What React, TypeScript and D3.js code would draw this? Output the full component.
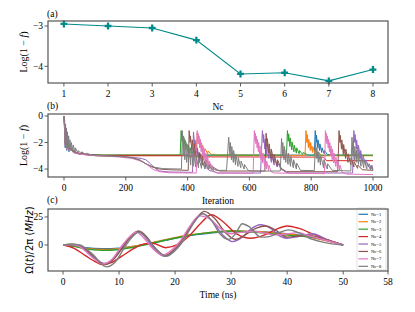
import React from "react";
import * as d3 from "d3";

// ---------- Panel (a) data ----------
const ncValues = [1, 2, 3, 4, 5, 6, 7, 8];
const logInfid = [-2.95, -3.0, -3.05, -3.35, -4.19, -4.16, -4.36, -4.08];
const aXTicks = [1, 2, 3, 4, 5, 6, 7, 8];
const aYTicks = [-3, -4];

// ---------- Panel (b) data (iteration, log infidelity) ----------
const bNames = ["Nc=1", "Nc=2", "Nc=3", "Nc=4", "Nc=5", "Nc=6", "Nc=7", "Nc=8"];
const bColors = ["#1f77b4", "#ff7f0e", "#2ca02c", "#d62728", "#9467bd", "#8c564b", "#e377c2", "#7f7f7f"];
const bXTicks = [0, 200, 400, 600, 800, 1000];
const bYTicks = [0, -2, -4];

const iterNc1: [number, number][] = [
  [0, 0], [2, -1.3], [4, -2.4], [6, -1.9], [9, -2.6], [12, -2.2], [16, -2.7], [22, -2.5], [30, -2.75], [45, -2.85], [70, -2.92], [110, -2.95],
  [810, -2.95], [813, -1.1], [816, -2.0], [817, -1.45], [821, -2.4], [822, -1.8], [827, -2.6], [828, -2.1], [834, -2.75], [835, -2.4],
  [842, -2.85], [843, -2.6], [852, -2.9], [865, -2.95], [1000, -2.97],
];
const iterNc2: [number, number][] = [
  [0, 0], [2, -1.1], [5, -2.3], [7, -1.8], [10, -2.5], [14, -2.2], [19, -2.6], [26, -2.5], [35, -2.75], [55, -2.85], [80, -2.92], [120, -2.95],
  [428, -2.95], [431, -1.3], [434, -2.1], [435, -1.6], [440, -2.4], [441, -1.9], [447, -2.6], [448, -2.2], [455, -2.75], [456, -2.45],
  [465, -2.85], [466, -2.65], [478, -2.9], [490, -2.95],
  [780, -2.97], [783, -1.1], [786, -2.0], [787, -1.4], [791, -2.4], [792, -1.75], [797, -2.6], [798, -2.0], [804, -2.75], [805, -2.3],
  [812, -2.85], [813, -2.5], [821, -2.9], [822, -2.7], [832, -2.95], [845, -3.0], [1000, -3.0],
];
const iterNc3: [number, number][] = [
  [0, 0], [2, -0.9], [5, -2.1], [8, -1.8], [12, -2.4], [18, -2.4], [30, -2.7], [50, -2.85], [90, -2.92], [130, -2.95],
  [376, -2.95], [379, -1.1], [382, -1.9], [383, -1.35], [387, -2.3], [388, -1.65], [393, -2.55], [394, -1.95], [400, -2.7], [401, -2.2],
  [408, -2.8], [409, -2.4], [417, -2.85], [418, -2.6], [428, -2.9], [430, -2.75], [445, -2.95],
  [720, -2.95], [723, -1.1], [726, -1.9], [727, -1.35], [731, -2.3], [732, -1.65], [737, -2.55], [738, -1.95], [744, -2.7], [745, -2.2],
  [752, -2.8], [753, -2.4], [761, -2.85], [762, -2.6], [772, -2.9], [774, -2.75], [790, -2.95], [1000, -2.95],
];
const iterNc4: [number, number][] = [
  [0, 0], [2, -0.6], [5, -1.5], [8, -1.9], [12, -2.2], [18, -2.4], [28, -2.6], [45, -2.8], [70, -2.9], [110, -3.0],
  [395, -3.0], [405, -3.08], [840, -3.1], [850, -3.37], [1000, -3.37],
];
const iterNc5: [number, number][] = [
  [0, 0], [2, -0.8], [4, -2.0], [6, -1.5], [9, -2.3], [12, -2.0], [16, -2.5], [22, -2.4], [30, -2.7], [50, -2.85], [80, -2.92], [120, -2.97],
  [180, -3.05], [220, -3.12], [250, -3.2], [265, -3.3], [280, -3.6], [295, -3.95], [310, -4.15], [340, -4.22], [416, -4.25],
  [419, -1.2], [423, -2.3], [424, -1.8], [430, -2.9], [431, -2.4], [440, -3.4], [441, -3.0], [455, -3.8], [470, -4.1], [500, -4.3],
  [636, -4.3], [642, -1.1], [645, -2.0], [646, -1.4], [650, -2.5], [651, -1.75], [656, -2.9], [657, -2.1], [663, -3.2], [664, -2.5],
  [671, -3.5], [672, -2.9], [680, -3.7], [681, -3.2], [690, -3.85], [691, -3.5], [702, -4.0], [715, -4.2], [730, -4.3],
  [934, -4.3], [938, -1.1], [941, -2.0], [942, -1.4], [946, -2.5], [947, -1.8], [952, -2.9], [953, -2.2], [959, -3.2], [960, -2.6],
  [967, -3.5], [968, -3.0], [976, -3.7], [977, -3.3], [986, -3.85], [987, -3.6], [995, -4.0], [996, -3.7], [1000, -4.05],
];
const iterNc6: [number, number][] = [
  [0, 0], [2, -0.9], [4, -2.1], [6, -1.6], [9, -2.4], [12, -2.1], [16, -2.5], [22, -2.45], [30, -2.7], [50, -2.85], [80, -2.93], [120, -2.98],
  [180, -3.05], [220, -3.15], [245, -3.3], [265, -3.6], [285, -3.85], [310, -4.0], [340, -4.05], [402, -4.1],
  [405, -1.1], [408, -2.0], [409, -1.5], [414, -2.6], [415, -1.8], [421, -3.0], [422, -2.1], [429, -3.3], [430, -2.4], [438, -3.5],
  [439, -2.75], [448, -3.7], [449, -3.0], [459, -3.85], [460, -3.3], [472, -3.95], [473, -3.6], [488, -4.05], [505, -4.15],
  [650, -4.15], [654, -1.3], [657, -2.3], [658, -1.7], [663, -2.8], [664, -2.1], [670, -3.2], [671, -2.5], [679, -3.5], [680, -2.9],
  [690, -3.75], [691, -3.3], [703, -3.95], [720, -4.2],
  [886, -4.2], [890, -1.1], [893, -2.0], [894, -1.45], [898, -2.5], [899, -1.8], [904, -2.9], [905, -2.15], [911, -3.2], [912, -2.5],
  [919, -3.5], [920, -2.85], [928, -3.7], [929, -3.15], [938, -3.85], [939, -3.45], [950, -3.95], [951, -3.7], [965, -4.05], [1000, -4.1],
];
const iterNc7: [number, number][] = [
  [0, 0], [2, -1.0], [4, -2.2], [6, -1.7], [9, -2.5], [12, -2.2], [16, -2.6], [22, -2.55], [30, -2.75], [50, -2.88], [80, -2.95], [120, -3.0],
  [180, -3.1], [220, -3.2], [250, -3.4], [270, -3.7], [290, -4.05], [310, -4.2], [340, -4.28], [428, -4.3],
  [431, -1.1], [433, -1.9], [434, -1.3], [436, -2.1], [437, -1.5], [440, -2.4], [441, -1.75], [444, -2.7], [445, -2.0], [448, -3.0],
  [449, -2.25], [453, -3.3], [454, -2.5], [458, -3.55], [459, -2.8], [464, -3.8], [465, -3.1], [470, -4.0], [471, -3.4], [477, -4.1],
  [478, -3.7], [485, -4.2], [495, -4.3], [612, -4.32],
  [616, -1.1], [618, -1.9], [619, -1.3], [621, -2.1], [622, -1.5], [625, -2.4], [626, -1.75], [629, -2.7], [630, -2.0], [633, -3.0],
  [634, -2.25], [638, -3.3], [639, -2.5], [643, -3.55], [644, -2.8], [649, -3.8], [650, -3.1], [655, -4.0], [656, -3.4], [662, -4.1],
  [663, -3.7], [670, -4.2], [680, -4.3], [843, -4.35],
  [846, -1.1], [848, -1.9], [849, -1.3], [851, -2.1], [852, -1.5], [855, -2.4], [856, -1.75], [859, -2.7], [860, -2.0], [863, -3.0],
  [864, -2.25], [868, -3.3], [869, -2.5], [873, -3.55], [874, -2.8], [879, -3.8], [880, -3.1], [885, -4.0], [886, -3.4], [892, -4.1],
  [893, -3.7], [900, -4.25], [915, -4.38], [1000, -4.42],
];
const iterNc8: [number, number][] = [
  [0, 0], [2, -0.3], [4, -2.3], [5, -0.6], [7, -2.4], [8, -0.9], [10, -2.4], [11, -1.2], [14, -2.5], [15, -1.5], [18, -2.5], [19, -1.8],
  [23, -2.6], [24, -2.0], [29, -2.7], [30, -2.2], [36, -2.75], [37, -2.4], [45, -2.8], [46, -2.6], [56, -2.85], [57, -2.7], [70, -2.9],
  [72, -2.8], [90, -2.95], [100, -3.0], [180, -3.05], [215, -3.12], [240, -3.3], [265, -3.6], [290, -3.85], [320, -3.97], [380, -4.0],
  [383, -1.1], [386, -3.0], [387, -1.5], [391, -3.3], [392, -1.8], [397, -3.5], [398, -2.1], [403, -3.6], [404, -2.3], [410, -3.7],
  [411, -2.5], [418, -3.8], [419, -2.75], [426, -3.85], [427, -2.9], [435, -3.9], [436, -3.1], [445, -3.95], [446, -3.3], [456, -4.0],
  [457, -3.5], [468, -4.05], [469, -3.7], [482, -4.1], [483, -3.85], [500, -4.1], [526, -4.1],
  [533, -1.6], [537, -3.0], [538, -2.0], [542, -3.3], [543, -2.3], [548, -3.5], [549, -2.6], [555, -3.7], [556, -2.9], [563, -3.8],
  [564, -3.15], [572, -3.9], [573, -3.4], [583, -4.0], [584, -3.65], [596, -4.1], [610, -4.15], [700, -4.15],
  [704, -1.7], [707, -3.0], [708, -2.0], [712, -3.3], [713, -2.3], [718, -3.5], [719, -2.55], [725, -3.65], [726, -2.8], [733, -3.8],
  [734, -3.05], [742, -3.9], [743, -3.3], [752, -4.0], [753, -3.55], [765, -4.1], [810, -4.12],
  [814, -2.0], [817, -3.2], [818, -2.4], [823, -3.5], [824, -2.7], [830, -3.7], [831, -3.0], [840, -3.9], [841, -3.3], [852, -4.0],
  [853, -3.6], [868, -4.1], [928, -4.15],
  [932, -1.6], [935, -3.0], [936, -2.0], [940, -3.3], [941, -2.3], [946, -3.5], [947, -2.55], [953, -3.65], [954, -2.8], [961, -3.8],
  [962, -3.05], [970, -3.9], [971, -3.3], [980, -4.0], [981, -3.55], [992, -4.05], [993, -3.75], [1000, -4.1],
];
const iterSeries = [iterNc1, iterNc2, iterNc3, iterNc4, iterNc5, iterNc6, iterNc7, iterNc8];

// ---------- Panel (c) data (time ns, Omega/2pi MHz) ----------
const pulseNc1: [number, number][] = [
  [0, 0], [2, -0.8], [4, -2.5], [7, -3.3], [10, -2.8], [14, 0], [18, 4], [22, 8], [26, 10.5], [30, 12], [34, 12], [38, 11], [42, 9], [45, 7], [48, 3], [50, 0],
];
const pulseNc2: [number, number][] = [
  [0, 0], [2, -1], [4, -3], [7, -4], [10, -3.2], [14, 0], [18, 4.5], [22, 8.5], [26, 11], [30, 12.5], [34, 12], [38, 10.5], [42, 8.5], [45, 6], [48, 2.5], [50, 0],
];
const pulseNc3: [number, number][] = [
  [0, 0], [2, -1.2], [4, -3.5], [7, -4.8], [10, -4], [14, -0.5], [18, 4], [22, 8], [26, 11], [30, 12.5], [34, 11.5], [38, 9.5], [42, 8], [45, 6.5], [48, 3], [50, 0],
];
const pulseNc4: [number, number][] = [
  [0, 0], [2, -3], [4, -9.5], [6, -15.5], [7, -17.5], [8.5, -16], [10.5, -10], [12.5, -3.5], [14.5, 1], [16, 1.5], [18.3, -2.4], [20.5, 0.5],
  [22.5, 8], [24.5, 19], [26.5, 27], [28.5, 21], [31, 10], [33.5, 6], [36, 9], [38, 14], [40, 17], [42, 15], [44.5, 10], [47, 5], [50, 0],
];
const pulseNc5: [number, number][] = [
  [0, 0], [1.5, 0.5], [3, -1], [5, -9], [7.3, -16.5], [9, -12], [10.5, -2], [12, 7], [13.3, 12], [14.5, 8], [16, -2], [18, -10], [19.5, -6],
  [21, 3], [23, 18], [24.8, 28], [26.5, 22], [28.5, 9], [30.2, 3], [32, 7], [33.5, 14], [35.2, 18], [37, 15], [38.7, 8], [40, 6], [42, 7.5],
  [44.5, 10], [47, 5], [50, 0],
];
const pulseNc6: [number, number][] = [
  [0, 0], [1.5, 0.8], [3, -0.5], [5, -8], [7.5, -17.5], [9, -13], [10.7, -2], [12, 7], [13.5, 12.5], [15, 7], [16.3, -2], [18.2, -9.5],
  [19.7, -5], [21.2, 4], [23.3, 20], [25.2, 30], [27, 24], [29, 11], [30.8, 5], [32.5, 9], [34.5, 15], [36.2, 17], [38, 13], [40, 7],
  [42, 8], [43.5, 9], [46, 6], [50, 0],
];
const pulseNc7: [number, number][] = [
  [0, 0], [1.5, 0.3], [3, -1.5], [5, -10], [7, -17], [8.7, -13], [10.3, -2], [11.8, 7], [13.1, 11.5], [14.3, 7], [15.8, -2], [17.8, -9],
  [19.3, -5], [21, 4], [22.8, 18], [24.3, 26], [26, 24], [28, 15], [30, 10], [32, 11.5], [34, 12], [36, 10.5], [38, 9], [40, 10],
  [42, 11], [44, 8], [47, 4], [50, 0],
];
const pulseNc8: [number, number][] = [
  [0, 0], [1.5, 0.8], [3, 0], [5, -7], [7.8, -19.5], [9.5, -14], [11, -2], [12.3, 7], [13.6, 11.5], [15, 6], [16.5, -3], [18.4, -10],
  [20, -5], [21.5, 4], [23.5, 21], [25, 28], [26.5, 22], [28, 10], [29.5, 5], [30.8, 10], [32, 19], [33.3, 16], [35.3, 7], [36.8, 7.5],
  [38.5, 11], [40.3, 13.5], [42, 11], [44, 6], [46, 3], [48, 1], [50, 0],
];
const pulseSeries = [pulseNc1, pulseNc2, pulseNc3, pulseNc4, pulseNc5, pulseNc6, pulseNc7, pulseNc8];
const cXTicks = [0, 10, 20, 30, 40, 50, 58];
const cYTicks = [0, 25];

const SERIF = "'Liberation Serif', 'Times New Roman', serif";
const SANS = "'DejaVu Sans', sans-serif";
const FRAME = "#555";
const TEAL = "#008b8b";

const X0 = 48, X1 = 388;
const fmt = (v: number) => (v < 0 ? "\u2212" + Math.abs(v) : String(v));

function Frame({ y0, y1, xs, ys, xTicks, yTicks }: any) {
  return (
    <g>
      {xTicks.map((t: number) => (
        <g key={"x" + t}>
          <line x1={xs(t)} x2={xs(t)} y1={y1} y2={y1 + 3.5} stroke="#333" strokeWidth={0.8} />
          <text x={xs(t)} y={y1 + 13.5} fontSize={9.5} fontFamily={SERIF} textAnchor="middle" fill="#000">{fmt(t)}</text>
        </g>
      ))}
      {yTicks.map((t: number) => (
        <g key={"y" + t}>
          <line x1={X0 - 3.5} x2={X0} y1={ys(t)} y2={ys(t)} stroke="#333" strokeWidth={0.8} />
          <text x={X0 - 5} y={ys(t) + 3.3} fontSize={9.5} fontFamily={SERIF} textAnchor="end" fill="#000">{fmt(t)}</text>
        </g>
      ))}
      <rect x={X0} y={y0} width={X1 - X0} height={y1 - y0} fill="none" stroke={FRAME} strokeWidth={1.2} />
    </g>
  );
}

export default function App() {
  // panel a
  const aY0 = 21, aY1 = 83;
  const ax = d3.scaleLinear().domain([0.64, 8.34]).range([X0, X1]);
  const ay = d3.scaleLinear().domain([-2.876, -4.414]).range([aY0, aY1]);
  const aLine = d3.line<number>().x((_, i) => ax(ncValues[i])).y((d) => ay(d));
  const cross = d3.symbol().type(d3.symbolCross).size(26)();

  // panel b
  const bY0 = 114, bY1 = 177;
  const bx = d3.scaleLinear().domain([-51.8, 1048.5]).range([X0, X1]);
  const by = d3.scaleLinear().domain([0.15, -4.6]).range([bY0, bY1]);
  const bLine = d3.line<[number, number]>().x((d) => bx(d[0])).y((d) => by(d[1]));

  // panel c
  const cY0 = 209, cY1 = 271;
  const cx = d3.scaleLinear().domain([-2.68, 58]).range([X0, X1]);
  const cy = d3.scaleLinear().domain([32.1, -23.2]).range([cY0, cY1]);
  const cLine = d3.line<[number, number]>().x((d) => cx(d[0])).y((d) => cy(d[1])).curve(d3.curveMonotoneX);

  const legX = 357, legY = 208, legW = 29, legH = 62;

  return (
    <svg width={415} height={312} style={{ position: "absolute", left: 0, top: 0, background: "#fff" }}>
      <defs>
        <clipPath id="clipB"><rect x={X0} y={bY0} width={X1 - X0} height={bY1 - bY0} /></clipPath>
        <clipPath id="clipC"><rect x={X0} y={cY0} width={X1 - X0} height={cY1 - cY0} /></clipPath>
      </defs>

      {/* Panel (a) */}
      <text x={47} y={16.5} fontSize={9.5} fontFamily={SERIF}>(a)</text>
      <path d={aLine(logInfid) || ""} fill="none" stroke={TEAL} strokeWidth={1.1} />
      {logInfid.map((v, i) => (
        <path key={i} d={cross || ""} transform={`translate(${ax(ncValues[i])},${ay(v)})`} fill={TEAL} />
      ))}
      <Frame y0={aY0} y1={aY1} xs={ax} ys={ay} xTicks={aXTicks} yTicks={aYTicks} />
      <text x={(X0 + X1) / 2} y={110} fontSize={9.5} fontFamily={SERIF} textAnchor="middle">Nc</text>
      <text transform={`translate(27,${(aY0 + aY1) / 2}) rotate(-90)`} fontSize={10} fontFamily={SERIF} textAnchor="middle">
        Log(1 − <tspan fontStyle="italic">f</tspan>)
      </text>

      {/* Panel (b) */}
      <text x={47} y={108.5} fontSize={9.5} fontFamily={SERIF}>(b)</text>
      <g clipPath="url(#clipB)">
        {iterSeries.map((s, i) => (
          <path key={i} d={bLine(s) || ""} fill="none" stroke={bColors[i]} strokeWidth={1} strokeLinejoin="round" />
        ))}
      </g>
      <Frame y0={bY0} y1={bY1} xs={bx} ys={by} xTicks={bXTicks} yTicks={bYTicks} />
      <text x={(X0 + X1) / 2} y={203.5} fontSize={9.5} fontFamily={SERIF} textAnchor="middle">Iteration</text>
      <text transform={`translate(27,${(bY0 + bY1) / 2}) rotate(-90)`} fontSize={10} fontFamily={SERIF} textAnchor="middle">
        Log(1 − <tspan fontStyle="italic">f</tspan>)
      </text>

      {/* Panel (c) */}
      <text x={47} y={202.5} fontSize={9.5} fontFamily={SERIF}>(c)</text>
      <g clipPath="url(#clipC)">
        {pulseSeries.map((s, i) => (
          <path key={i} d={cLine(s) || ""} fill="none" stroke={bColors[i]} strokeWidth={1.4} />
        ))}
      </g>
      <g>
        <rect x={legX} y={legY} width={legW} height={legH} rx={1.5} fill="#fff" fillOpacity={0.85} stroke="#ccc" strokeWidth={0.6} />
        {bNames.map((n, i) => {
          const yy = legY + 6.3 + i * 7.43;
          return (
            <g key={n}>
              <line x1={legX + 1.5} x2={legX + 11} y1={yy} y2={yy} stroke={bColors[i]} strokeWidth={1.2} />
              <text x={legX + 14} y={yy + 1.6} fontSize={4.6} fontFamily={SERIF}>{n}</text>
            </g>
          );
        })}
      </g>
      <Frame y0={cY0} y1={cY1} xs={cx} ys={cy} xTicks={cXTicks} yTicks={cYTicks} />
      <text x={(X0 + X1) / 2} y={297.5} fontSize={9.5} fontFamily={SERIF} textAnchor="middle">Time (ns)</text>
      <text transform={`translate(33,${(cY0 + cY1) / 2}) rotate(-90)`} fontSize={10} fontFamily={SANS} textAnchor="middle">
        Ω(<tspan fontStyle="italic">t</tspan>)/2π (<tspan fontStyle="italic">MHz</tspan>)
      </text>
    </svg>
  );
}
